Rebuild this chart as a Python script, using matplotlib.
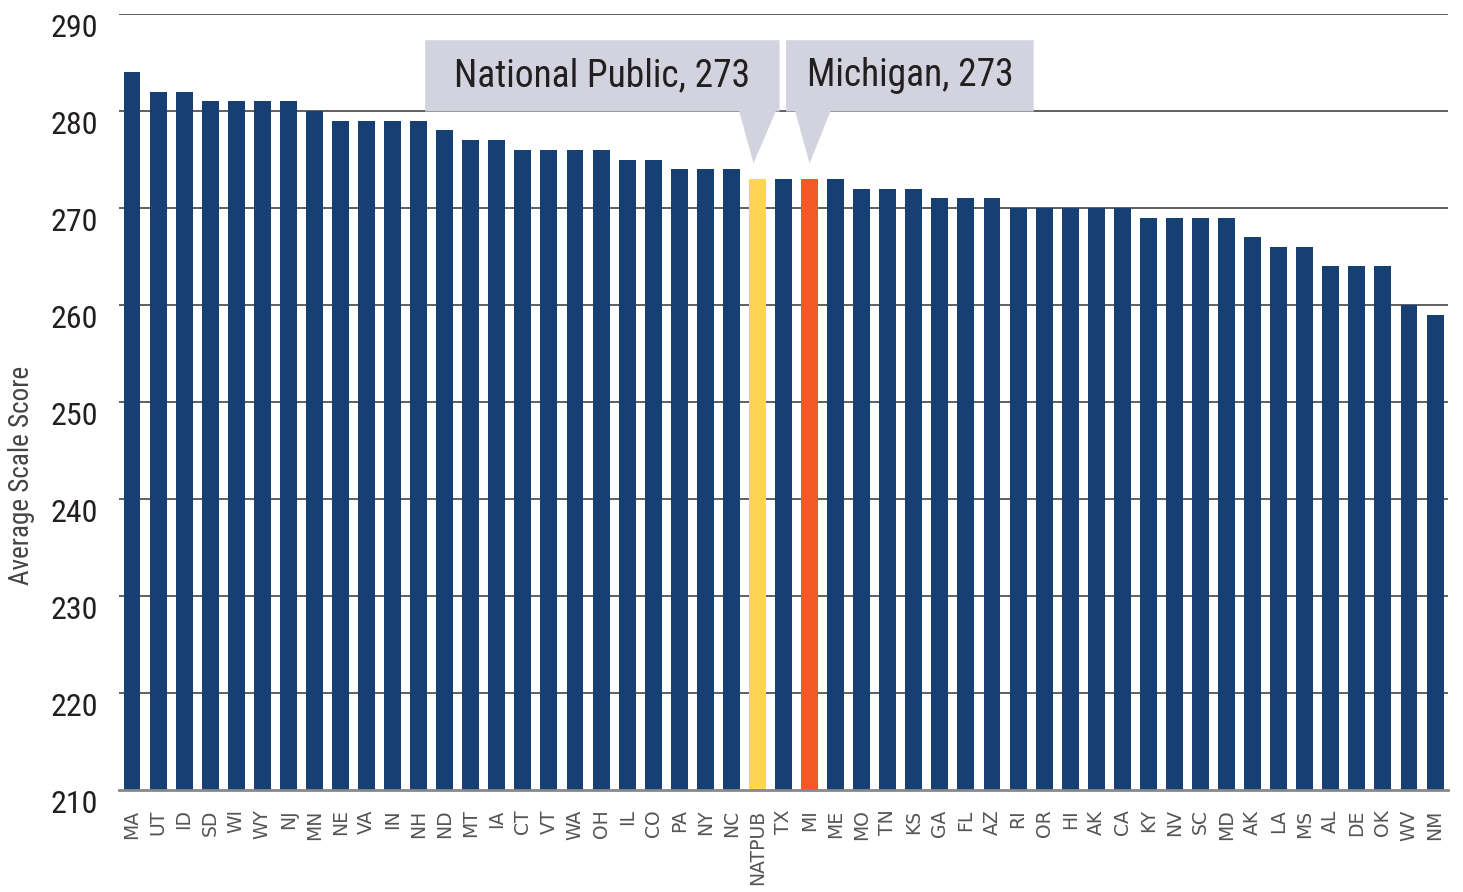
import numpy as np
import matplotlib.pyplot as plt
from matplotlib.patches import Polygon

states = ['MA', 'UT', 'ID', 'SD', 'WI', 'WY', 'NJ', 'MN', 'NE', 'VA', 'IN', 'NH', 'ND',
          'MT', 'IA', 'CT', 'VT', 'WA', 'OH', 'IL', 'CO', 'PA', 'NY', 'NC', 'NATPUB',
          'TX', 'MI', 'ME', 'MO', 'TN', 'KS', 'GA', 'FL', 'AZ', 'RI', 'OR', 'HI', 'AK',
          'CA', 'KY', 'NV', 'SC', 'MD', 'AK', 'LA', 'MS', 'AL', 'DE', 'OK', 'WV', 'NM']
scores = [284, 282, 282, 281, 281, 281, 281, 280, 279, 279, 279, 279, 278,
          277, 277, 276, 276, 276, 276, 275, 275, 274, 274, 274, 273,
          273, 273, 273, 272, 272, 272, 271, 271, 271, 270, 270, 270, 270,
          270, 269, 269, 269, 269, 267, 266, 266, 264, 264, 264, 260, 259]
callouts = {'NATPUB': 'National Public, 273', 'MI': 'Michigan, 273'}

navy = '#163f73'
colors = [navy] * len(states)
colors[states.index('NATPUB')] = '#fed452'
colors[states.index('MI')] = '#f15a25'

# narrow face if one is installed, else Roboto
cond = ['Roboto Condensed', 'Liberation Sans Narrow', 'DejaVu Sans Condensed', 'Roboto', 'DejaVu Sans']

fig = plt.figure(figsize=(14.63, 8.92), dpi=100)
ax = fig.add_axes([0.0813, 0.1143, 0.9085, 0.870])

x = np.arange(len(states))
ax.bar(x, scores, width=0.65, color=colors, zorder=2)

ax.set_xlim(-0.5, len(states) - 0.5)
ax.set_ylim(210, 290)
ax.set_yticks(range(210, 291, 10))
ax.set_yticklabels([str(v) for v in range(210, 291, 10)], family=cond, fontsize=23, color='#231f20')
for lbl in ax.get_yticklabels():
    lbl.set_verticalalignment('top')
ax.set_xticks(x)
ax.set_xticklabels(states, rotation=90, fontsize=13.5, color='#555555', family='DejaVu Sans')
ax.tick_params(length=0)
ax.tick_params(axis='y', pad=15)
ax.tick_params(axis='x', pad=14)

for v in range(220, 291, 10):
    ax.axhline(v, color='#444444', linewidth=1.2, zorder=1)
for s in ['top', 'left', 'right']:
    ax.spines[s].set_visible(False)
ax.spines['bottom'].set_color('#888888')
ax.spines['bottom'].set_linewidth(2)

ax.set_ylabel('Average Scale Score', family=cond, fontsize=19.5, color='#444444')
ax.yaxis.set_label_coords(-0.063, 0.405)

# callout boxes
box_col = '#d3d3e0'
spans = {'NATPUB': (-12.75, 0.85, -0.7, 0.7, -0.15), 'MI': (-0.9, 8.6, -0.55, 0.8, 0.0)}
for key, label in callouts.items():
    i = states.index(key)
    left, right, b0, b1, tip = spans[key]
    top, bottom = 287.3, 279.95
    tip_y = scores[i] + 1.6
    poly = Polygon([(i + left, top), (i + right, top), (i + right, bottom),
                    (i + b1, bottom), (i + tip, tip_y), (i + b0, bottom),
                    (i + left, bottom)], closed=True, facecolor=box_col,
                   edgecolor='none', zorder=4)
    ax.add_patch(poly)
    ax.text(i + (left + right) / 2, (top + bottom) / 2, label, ha='center', va='center',
            family=cond, fontsize=27, color='#231f20', zorder=5)

fig.savefig('out.png', dpi=100)
